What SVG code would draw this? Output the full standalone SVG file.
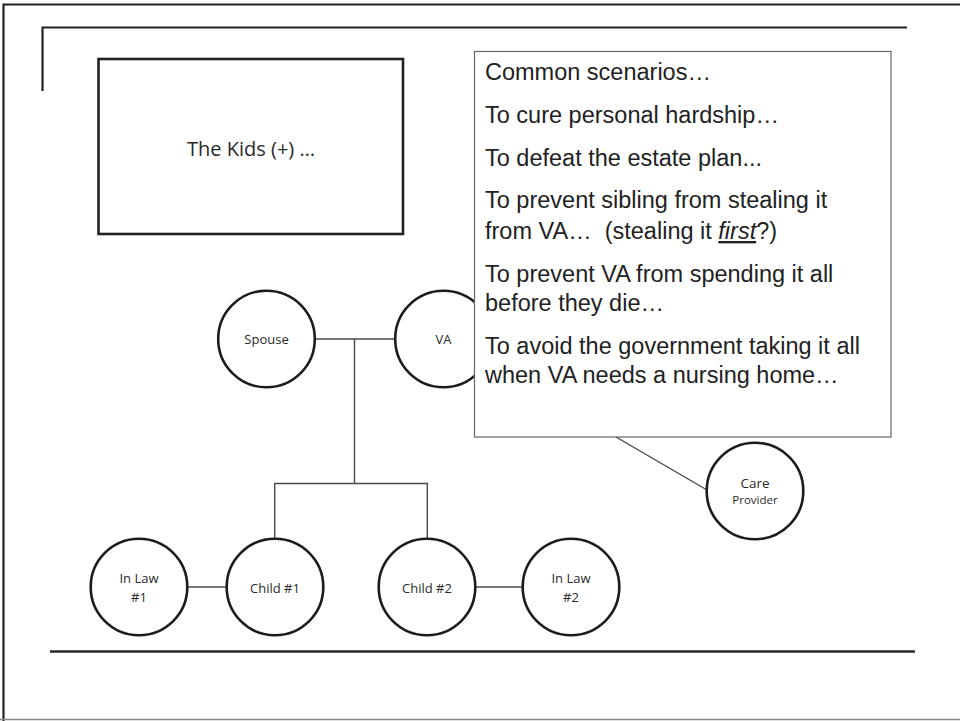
<svg xmlns="http://www.w3.org/2000/svg" width="960" height="721" viewBox="0 0 960 721">
<style>
.node circle{fill:#fff;stroke:#1c1c1c;stroke-width:2.6}
.lbl{font-family:"Open Sans","Noto Sans",sans-serif;fill:#2a2a2a;text-anchor:middle}
.con{stroke:#4a4a4a;stroke-width:1.4;fill:none}
.frame{stroke:#222;stroke-width:2.2;fill:none}
.sc{font-family:"Liberation Sans",Arial,sans-serif;font-size:23.5px;fill:#222}
</style>
<rect width="960" height="721" fill="#fff"/>
<g id="frame">
<path class="frame" d="M3.5,721 V4.5 H960"/>
<line x1="0" y1="719.5" x2="960" y2="719.5" stroke="#888" stroke-width="1.5"/>
<path class="frame" d="M42.5,91 V27.5 H907"/>
<line x1="50" y1="651.5" x2="915" y2="651.5" stroke="#2a2a2a" stroke-width="2.6"/>
</g>
<g id="kids">
<rect x="98.5" y="59" width="304.5" height="175" fill="#fff" stroke="#222" stroke-width="2.6"/>
<text class="lbl" x="251" y="156" font-size="20">The Kids (+) …</text>
</g>
<g id="connectors">
<line class="con" x1="315" y1="339" x2="395" y2="339"/>
<line class="con" x1="354.5" y1="339" x2="354.5" y2="483.5"/>
<path class="con" d="M274.7,538 V483.5 H427.3 V538"/>
<line class="con" x1="187" y1="587" x2="227" y2="587"/>
<line class="con" x1="476" y1="587" x2="522" y2="587"/>
<line class="con" x1="616" y1="437" x2="707" y2="490"/>
</g>
<g id="spouse" class="node"><circle cx="266.5" cy="339" r="48.3"/><text class="lbl" x="266.5" y="344" font-size="13">Spouse</text></g>
<g id="va" class="node"><circle cx="443.5" cy="339" r="48.3"/><text class="lbl" x="443.5" y="344" font-size="13">VA</text></g>
<g id="inlaw1" class="node"><circle cx="139" cy="587" r="48.3"/><text class="lbl" x="139" y="583" font-size="13">In Law</text><text class="lbl" x="139" y="602" font-size="13">#1</text></g>
<g id="child1" class="node"><circle cx="275" cy="587" r="48.3"/><text class="lbl" x="275" y="592.5" font-size="13">Child #1</text></g>
<g id="child2" class="node"><circle cx="427" cy="587" r="48.3"/><text class="lbl" x="427" y="592.5" font-size="13">Child #2</text></g>
<g id="inlaw2" class="node"><circle cx="571" cy="587" r="48.3"/><text class="lbl" x="571" y="583" font-size="13">In Law</text><text class="lbl" x="571" y="602" font-size="13">#2</text></g>
<g id="care" class="node"><circle cx="755" cy="491" r="48.3"/><text class="lbl" x="755" y="488" font-size="13.5">Care</text><text class="lbl" x="755" y="504" font-size="11.5">Provider</text></g>
<g id="scenarios">
<rect x="474.5" y="51.5" width="416.5" height="385.5" fill="#fff" stroke="#666" stroke-width="1.2"/>
<text class="sc" x="485" y="80">Common scenarios…</text>
<text class="sc" x="485" y="123">To cure personal hardship…</text>
<text class="sc" x="485" y="166">To defeat the estate plan...</text>
<text class="sc" x="485" y="208">To prevent sibling from stealing it</text>
<text class="sc" x="485" y="239" xml:space="preserve">from VA…  (stealing it <tspan font-style="italic" text-decoration="underline">first</tspan>?)</text>
<text class="sc" x="485" y="282">To prevent VA from spending it all</text>
<text class="sc" x="485" y="311">before they die…</text>
<text class="sc" x="485" y="354">To avoid the government taking it all</text>
<text class="sc" x="485" y="383">when VA needs a nursing home…</text>
</g>
</svg>
